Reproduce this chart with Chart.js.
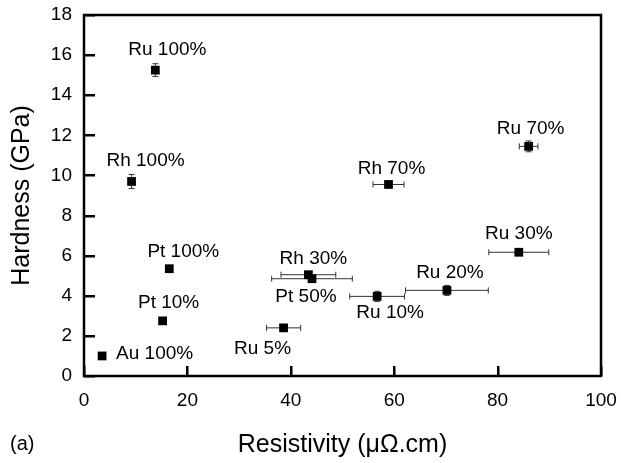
<!DOCTYPE html>
<html>
<head>
<meta charset="utf-8">
<script src="https://cdn.jsdelivr.net/npm/chart.js@4/dist/chart.umd.min.js"></script>
<style>
  html, body { margin: 0; padding: 0; background: #fff; }
  #wrap { width: 621px; height: 463px; position: relative; }
</style>
</head>
<body>
<div id="wrap"><canvas id="hardnessChart"></canvas></div>
<script>
// Data
const labels = ['Ru 100%', 'Rh 100%', 'Pt 100%', 'Pt 10%', 'Au 100%', 'Rh 70%', 'Rh 30%',
                'Pt 50%', 'Ru 10%', 'Ru 20%', 'Ru 5%', 'Ru 30%', 'Ru 70%'];
const resistivity = [13.8, 9.2, 16.5, 15.2, 3.5, 58.9, 43.4, 44.1, 56.7, 70.2, 38.6, 84.1, 86.0];
const hardness = [15.25, 9.7, 5.35, 2.75, 1.0, 9.55, 5.05, 4.85, 3.97, 4.27, 2.4, 6.17, 11.45];
const resistivityErr = [0, 0, 0, 0, 0, 3.0, 5.3, 7.8, 5.3, 8.0, 3.3, 5.8, 1.8];
const hardnessErr = [0.32, 0.35, 0, 0, 0, 0, 0, 0, 0.25, 0.25, 0, 0, 0.27];
const xTicks = [0, 20, 40, 60, 80, 100];
const yTicks = [0, 2, 4, 6, 8, 10, 12, 14, 16, 18];

// label placement relative to the marker (pixels), [dx, dy, align]
const labelOffsets = [
    [12, -20, 'center'], [14, -21, 'center'], [14, -17, 'center'], [6, -18, 'center'],
    [14, -2, 'left'], [3, -16, 'center'], [5, -16, 'center'], [-6, 18, 'center'],
    [13, 16, 'center'], [3, -18, 'center'], [-21, 21, 'center'], [0, -18, 'center'],
    [2, -18, 'center']
];

const FONT = "'Liberation Sans', Arial, Helvetica, sans-serif";
const TICK_IN = 11; // inward tick length

// drop the label overflow padding so the plot box sits where the layout padding says
function noOverflow(s) {
    s.paddingTop = 0; s.paddingBottom = 0; s.paddingLeft = 0; s.paddingRight = 0;
}

// error bars, frame, inward ticks and point labels
const figurePlugin = {
    id: 'figure',
    beforeDatasetsDraw(chart) {
        const c = chart.ctx;
        const sx = chart.scales.x, sy = chart.scales.y;
        c.save();
        c.strokeStyle = '#333';
        c.lineWidth = 1;
        const cap = 3;
        resistivity.forEach((rv, i) => {
            const px = sx.getPixelForValue(rv), py = sy.getPixelForValue(hardness[i]);
            if (resistivityErr[i] > 0) {
                const x1 = sx.getPixelForValue(rv - resistivityErr[i]);
                const x2 = sx.getPixelForValue(rv + resistivityErr[i]);
                c.beginPath();
                c.moveTo(x1, py); c.lineTo(x2, py);
                c.moveTo(x1, py - cap); c.lineTo(x1, py + cap);
                c.moveTo(x2, py - cap); c.lineTo(x2, py + cap);
                c.stroke();
            }
            if (hardnessErr[i] > 0) {
                const y1 = sy.getPixelForValue(hardness[i] - hardnessErr[i]);
                const y2 = sy.getPixelForValue(hardness[i] + hardnessErr[i]);
                c.beginPath();
                c.moveTo(px, y1); c.lineTo(px, y2);
                c.moveTo(px - cap, y1); c.lineTo(px + cap, y1);
                c.moveTo(px - cap, y2); c.lineTo(px + cap, y2);
                c.stroke();
            }
        });
        c.restore();
    },
    afterDraw(chart) {
        const c = chart.ctx;
        const area = chart.chartArea;
        const sx = chart.scales.x, sy = chart.scales.y;
        c.save();
        // frame
        c.strokeStyle = '#000';
        c.lineWidth = 2.5;
        c.strokeRect(area.left, area.top, area.right - area.left, area.bottom - area.top);
        // inward ticks
        c.fillStyle = '#000';
        yTicks.forEach(v => {
            const py = Math.round(sy.getPixelForValue(v));
            c.fillRect(area.left, py - 1, TICK_IN, 2.5);
        });
        xTicks.forEach(v => {
            const px = Math.round(sx.getPixelForValue(v));
            c.fillRect(px - 1, area.bottom - TICK_IN + 1, 2.5, TICK_IN - 1);
        });
        // point labels
        c.font = '19px ' + FONT;
        c.textBaseline = 'middle';
        labels.forEach((lab, i) => {
            const px = sx.getPixelForValue(resistivity[i]), py = sy.getPixelForValue(hardness[i]);
            const o = labelOffsets[i];
            c.textAlign = o[2];
            c.fillText(lab, px + o[0], py + o[1]);
        });
        // panel tag
        c.textAlign = 'left';
        c.font = '20px ' + FONT;
        c.fillText('(a)', 10, 444);
        c.restore();
    }
};

const ctx = document.getElementById('hardnessChart').getContext('2d');
new Chart(ctx, {
    type: 'scatter',
    data: {
        datasets: [{
            data: resistivity.map((v, i) => ({ x: v, y: hardness[i] })),
            pointStyle: 'rect',
            pointRadius: 6.2,
            pointHoverRadius: 6.2,
            backgroundColor: '#000',
            borderColor: '#000',
            borderWidth: 0
        }]
    },
    options: {
        responsive: true,
        maintainAspectRatio: false,
        animation: false,
        events: [],
        layout: { padding: { top: 15, right: 20, left: 0, bottom: 0 } },
        plugins: { legend: { display: false }, tooltip: { enabled: false } },
        scales: {
            x: {
                type: 'linear',
                min: 0, max: 100,
                afterBuildTicks: s => { s.ticks = xTicks.map(v => ({ value: v })); },
                afterFit: s => { s.height = 87; noOverflow(s); },
                grid: { display: false, drawTicks: false },
                border: { display: false },
                ticks: { color: '#000', font: { family: FONT, size: 19 }, padding: 13, maxRotation: 0 },
                title: {
                    display: true, text: 'Resistivity (μΩ.cm)', color: '#000',
                    font: { family: FONT, size: 25 }, padding: { top: 0, bottom: 3 }
                }
            },
            y: {
                type: 'linear',
                min: 0, max: 18,
                afterBuildTicks: s => { s.ticks = yTicks.map(v => ({ value: v })); },
                afterFit: s => { s.width = 84; noOverflow(s); },
                grid: { display: false, drawTicks: false },
                border: { display: false },
                ticks: { color: '#000', font: { family: FONT, size: 19 }, padding: 12 },
                title: {
                    display: true, text: 'Hardness (GPa)', color: '#000',
                    font: { family: FONT, size: 25 }, padding: { top: 7, bottom: 0 }
                }
            }
        }
    },
    plugins: [figurePlugin]
});
</script>
</body>
</html>
